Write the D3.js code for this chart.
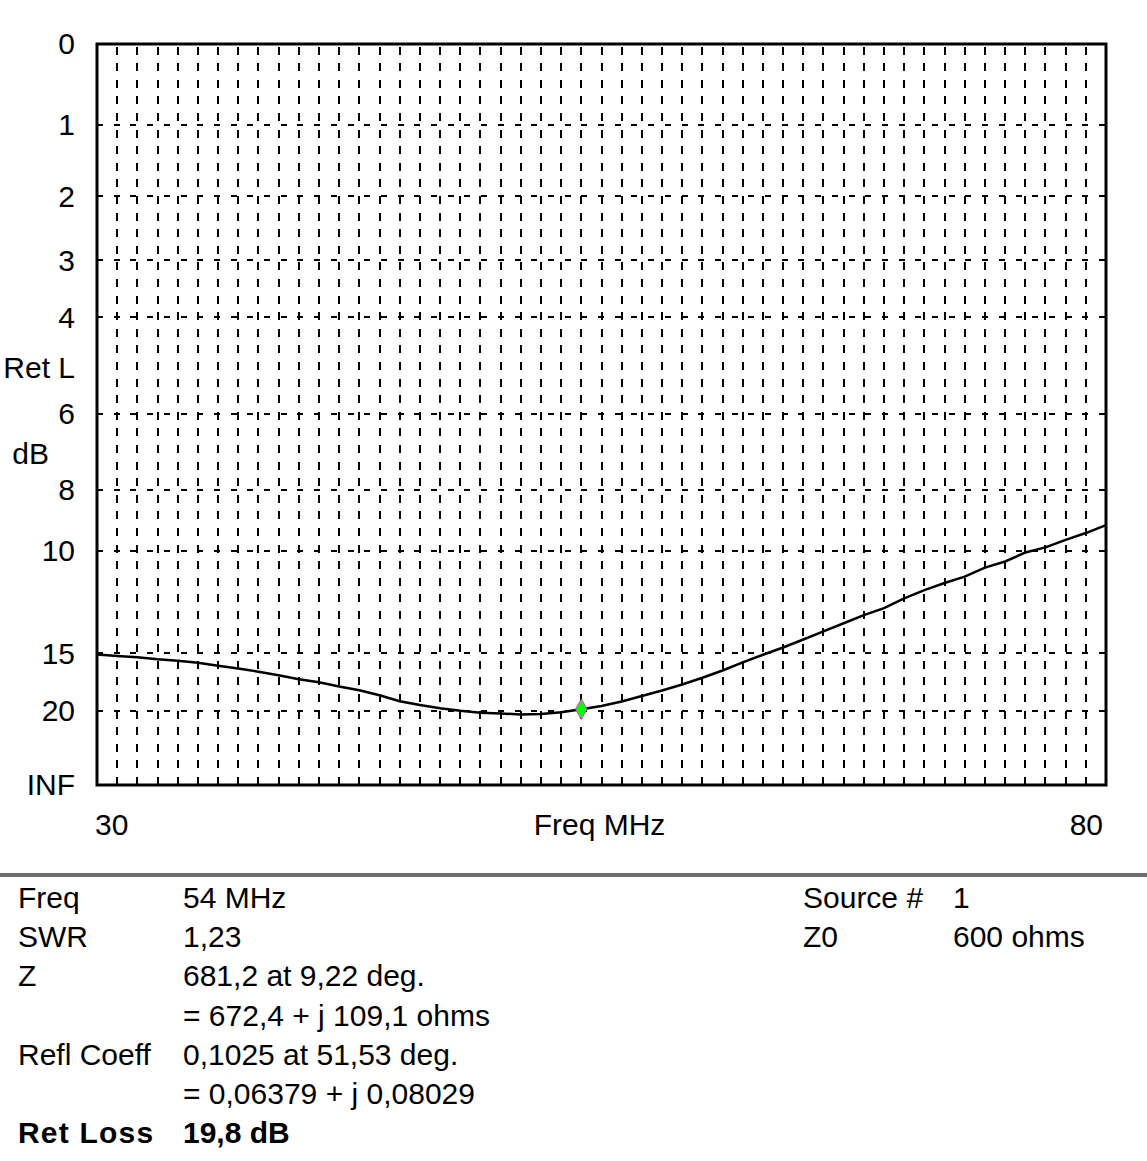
<!DOCTYPE html>
<html>
<head>
<meta charset="utf-8">
<script src="https://cdn.jsdelivr.net/npm/d3@7"></script>
<style>
  body { margin: 0; background: #ffffff; }
  text { font-family: "Liberation Sans", Arial, sans-serif; fill: #000000; }
</style>
</head>
<body>
<div id="chart"></div>
<script>
// frequency sweep (MHz) and return loss (dB)
var freqs = [30, 31, 32, 33, 34, 35, 36, 37, 38, 39, 40, 41, 42, 43, 44, 45, 46, 47, 48, 49,
    50, 51, 52, 53, 54, 55, 56, 57, 58, 59, 60, 61, 62, 63, 64, 65, 66, 67, 68, 69,
    70, 71, 72, 73, 74, 75, 76, 77, 78, 79, 80];
var retLoss = [15.08, 15.18, 15.27, 15.41, 15.51, 15.65, 15.86, 16.07, 16.31, 16.59,
    16.91, 17.16, 17.53, 17.87, 18.33, 18.93, 19.33, 19.70, 19.98, 20.21,
    20.31, 20.43, 20.37, 20.17, 19.80, 19.44, 18.96, 18.41, 17.89, 17.35,
    16.79, 16.22, 15.63, 15.10, 14.63, 14.14, 13.67, 13.22, 12.79, 12.44,
    11.98, 11.60, 11.29, 11.02, 10.65, 10.41, 10.07, 9.88, 9.61, 9.37, 9.10];

// y ticks in dB (INF at the bottom), and axis titles sitting at 5 and 7 dB
var yTickDb = [0, 1, 2, 3, 4, 6, 8, 10, 15, 20, Infinity];
var yGridDb = [1, 2, 3, 4, 6, 8, 10, 15, 20];
var xGridMhz = d3.range(31, 80);
var xTickMhz = [30, 80];

// marker and readout
var markerFreq = 54;
var markerDb = 19.8;
var infoLeft = [
    ["Freq", "54 MHz"],
    ["SWR", "1,23"],
    ["Z", "681,2 at 9,22 deg."],
    ["", "= 672,4 + j 109,1 ohms"],
    ["Refl Coeff", "0,1025 at 51,53 deg."],
    ["", "= 0,06379 + j 0,08029"],
    ["Ret Loss", "19,8 dB"]
];
var infoRight = [
    ["Source #", "1"],
    ["Z0", "600 ohms"]
];

var W = 1147, H = 1161;
var FS = 30;
var margin = { top: 44, right: 41, bottom: 376, left: 97 },
    width = W - margin.left - margin.right,
    height = H - margin.top - margin.bottom;

var svg = d3.select("#chart")
    .append("svg")
    .attr("width", W)
    .attr("height", H);

var g = svg.append("g")
    .attr("transform", "translate(" + margin.left + "," + margin.top + ")");

// reflection coefficient is linear on the y axis
function rho(db) { return Math.pow(10, -db / 20); }

var x = d3.scaleLinear().domain([30, 80]).range([0, width]);
var yRho = d3.scaleLinear().domain([0, 1]).range([height, 0]);
function y(db) { return yRho(rho(db)); }

// vertical grid (dashed, every MHz)
g.selectAll(".vgrid")
    .data(xGridMhz)
    .enter().append("line")
    .attr("x1", function (d) { return x(d); })
    .attr("x2", function (d) { return x(d); })
    .attr("y1", height)
    .attr("y2", 0)
    .attr("stroke", "#000")
    .attr("stroke-width", 2)
    .attr("shape-rendering", "crispEdges")
    .attr("stroke-dasharray", "8,8.6");

// horizontal grid
g.selectAll(".hgrid")
    .data(yGridDb)
    .enter().append("line")
    .attr("x1", 0)
    .attr("x2", width)
    .attr("y1", function (d) { return y(d); })
    .attr("y2", function (d) { return y(d); })
    .attr("stroke", "#000")
    .attr("stroke-width", 2)
    .attr("shape-rendering", "crispEdges")
    .attr("stroke-dasharray", "6,10.7");

// frame
g.append("rect")
    .attr("width", width)
    .attr("height", height)
    .attr("fill", "none")
    .attr("stroke", "#000")
    .attr("stroke-width", 3);

// y axis labels
var yAxis = d3.axisLeft(yRho)
    .tickValues(yTickDb.map(rho))
    .tickSize(0)
    .tickPadding(22)
    .tickFormat(function (d, i) { return isFinite(yTickDb[i]) ? yTickDb[i] : "INF"; });
g.append("g")
    .call(yAxis)
    .call(function (a) { a.select(".domain").remove(); })
    .selectAll("text")
    .attr("font-size", FS)
    .attr("font-family", "Liberation Sans, Arial, sans-serif")
    .attr("dy", "0.33em");

g.append("text")
    .attr("x", -22)
    .attr("y", y(5))
    .attr("dy", "0.33em")
    .attr("text-anchor", "end")
    .attr("font-size", FS)
    .text("Ret L");

g.append("text")
    .attr("x", -48)
    .attr("y", y(7))
    .attr("dy", "0.33em")
    .attr("text-anchor", "end")
    .attr("font-size", FS)
    .text("dB");

// x axis labels
g.append("text")
    .attr("x", x(xTickMhz[0]) - 2)
    .attr("y", height + 50)
    .attr("font-size", FS)
    .text(xTickMhz[0]);

g.append("text")
    .attr("x", x(xTickMhz[1]) - 3)
    .attr("y", height + 50)
    .attr("text-anchor", "end")
    .attr("font-size", FS)
    .text(xTickMhz[1]);

g.append("text")
    .attr("x", x(55) - 2)
    .attr("y", height + 50)
    .attr("text-anchor", "middle")
    .attr("font-size", FS)
    .text("Freq MHz");

// the return loss curve
var data = freqs.map(function (f, i) { return { f: f, db: retLoss[i] }; });
g.append("path")
    .datum(data)
    .attr("fill", "none")
    .attr("stroke", "#000")
    .attr("stroke-width", 2.5)
    .attr("d", d3.line()
        .x(function (d) { return x(d.f); })
        .y(function (d) { return y(d.db); })
    );

// green marker at the selected frequency
g.append("path")
    .attr("d", d3.symbol().type(d3.symbolDiamond).size(120))
    .attr("transform", "translate(" + x(markerFreq) + "," + y(markerDb) + ")")
    .attr("fill", "#00ff00")
    .attr("stroke", "#ff00ff")
    .attr("stroke-width", 0.8);

// separator between plot and readout
svg.append("line")
    .attr("x1", 0)
    .attr("x2", W)
    .attr("y1", 875)
    .attr("y2", 875)
    .attr("stroke", "#6e6e6e")
    .attr("stroke-width", 4);

// readout table
var rowY = d3.scaleLinear().domain([0, 6]).range([908, 1143]);
var info = svg.append("g");

infoLeft.forEach(function (r, i) {
    var bold = i === infoLeft.length - 1;
    info.append("text")
        .attr("x", 18)
        .attr("y", rowY(i))
        .attr("font-size", FS)
        .attr("font-weight", bold ? "bold" : "normal")
        .attr("letter-spacing", bold ? 1.2 : 0)
        .text(r[0]);
    info.append("text")
        .attr("x", 183)
        .attr("y", rowY(i))
        .attr("font-size", FS)
        .attr("font-weight", bold ? "bold" : "normal")
        .text(r[1]);
});

infoRight.forEach(function (r, i) {
    info.append("text")
        .attr("x", 803)
        .attr("y", rowY(i))
        .attr("font-size", FS)
        .text(r[0]);
    info.append("text")
        .attr("x", 953)
        .attr("y", rowY(i))
        .attr("font-size", FS)
        .text(r[1]);
});
</script>
</body>
</html>
